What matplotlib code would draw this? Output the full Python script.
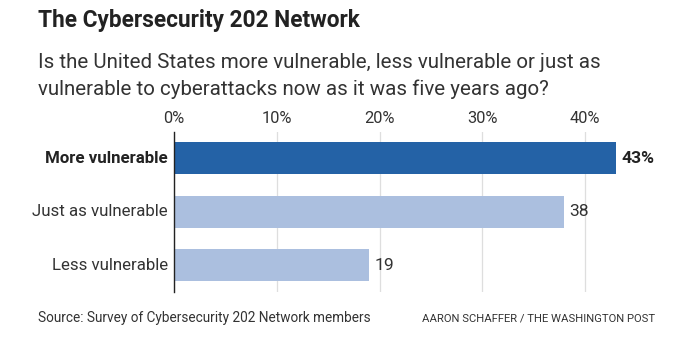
import matplotlib
matplotlib.use("Agg")
import matplotlib.pyplot as plt

categories = ["More vulnerable", "Just as vulnerable", "Less vulnerable"]
values = [43, 38, 19]
value_labels = ["43%", "38", "19"]
tick_vals = [0, 10, 20, 30, 40]
tick_labels = ["0%", "10%", "20%", "30%", "40%"]

DARK = "#2462a6"
LIGHT = "#abbfdf"
TXT = "#222222"
FONT = "Roboto"

W, H = 692, 344
fig = plt.figure(figsize=(W / 100, H / 100), dpi=100)
fig.patch.set_facecolor("white")

def fx(px):
    return px / W

def fy(py):
    return 1 - py / H

ax = fig.add_axes([fx(174), fy(291.7), (636.4 - 174) / W, 160 / H])
ypos = list(range(len(categories)))
colors = [DARK] + [LIGHT] * (len(categories) - 1)
ax.barh(ypos, values, height=0.6, color=colors, zorder=3)
ax.set_xlim(0, 45)
ax.set_ylim(2.5, -0.5)
ax.set_xticks(tick_vals)
ax.set_xticklabels(tick_labels, fontsize=11.8, color="#333333", family=FONT)
ax.xaxis.tick_top()
ax.tick_params(axis="x", length=0, pad=4)
ax.grid(axis="x", color="#dedede", linewidth=0.9, zorder=0)
ax.set_yticks(ypos)
ax.set_yticklabels([])
ax.tick_params(axis="y", length=0)
for s in ["top", "right", "bottom"]:
    ax.spines[s].set_visible(False)
ax.spines["left"].set_color("#222222")
ax.spines["left"].set_linewidth(1.0)
ax.spines["left"].set_zorder(4)
ax.set_facecolor("none")

for i, (c, v, lab) in enumerate(zip(categories, values, value_labels)):
    bold = i == 0
    ax.text(-0.6, i, c, ha="right", va="center", fontsize=12.2,
            fontweight="bold" if bold else "normal",
            color=TXT if bold else "#333333", family=FONT)
    ax.text(v + 0.5, i, lab, ha="left", va="center", fontsize=12.6,
            fontweight="bold" if bold else "normal",
            color=TXT if bold else "#333333", family=FONT, clip_on=False)

fig.text(fx(38), fy(20), "The Cybersecurity 202 Network", ha="left", va="center",
         fontsize=16.3, fontweight="bold", color=TXT, family=FONT)
fig.text(fx(38), fy(63), "Is the United States more vulnerable, less vulnerable or just as",
         ha="left", va="center", fontsize=14.8, color="#333333", family=FONT)
fig.text(fx(38), fy(89), "vulnerable to cyberattacks now as it was five years ago?",
         ha="left", va="center", fontsize=14.8, color="#333333", family=FONT)
fig.text(fx(38), fy(318), "Source: Survey of Cybersecurity 202 Network members",
         ha="left", va="center", fontsize=9.8, color="#333333", family=FONT)
fig.text(fx(655), fy(318), "AARON SCHAFFER / THE WASHINGTON POST",
         ha="right", va="center", fontsize=8.1, color="#333333", family=FONT)

fig.savefig("out.png", dpi=100, facecolor="white")
